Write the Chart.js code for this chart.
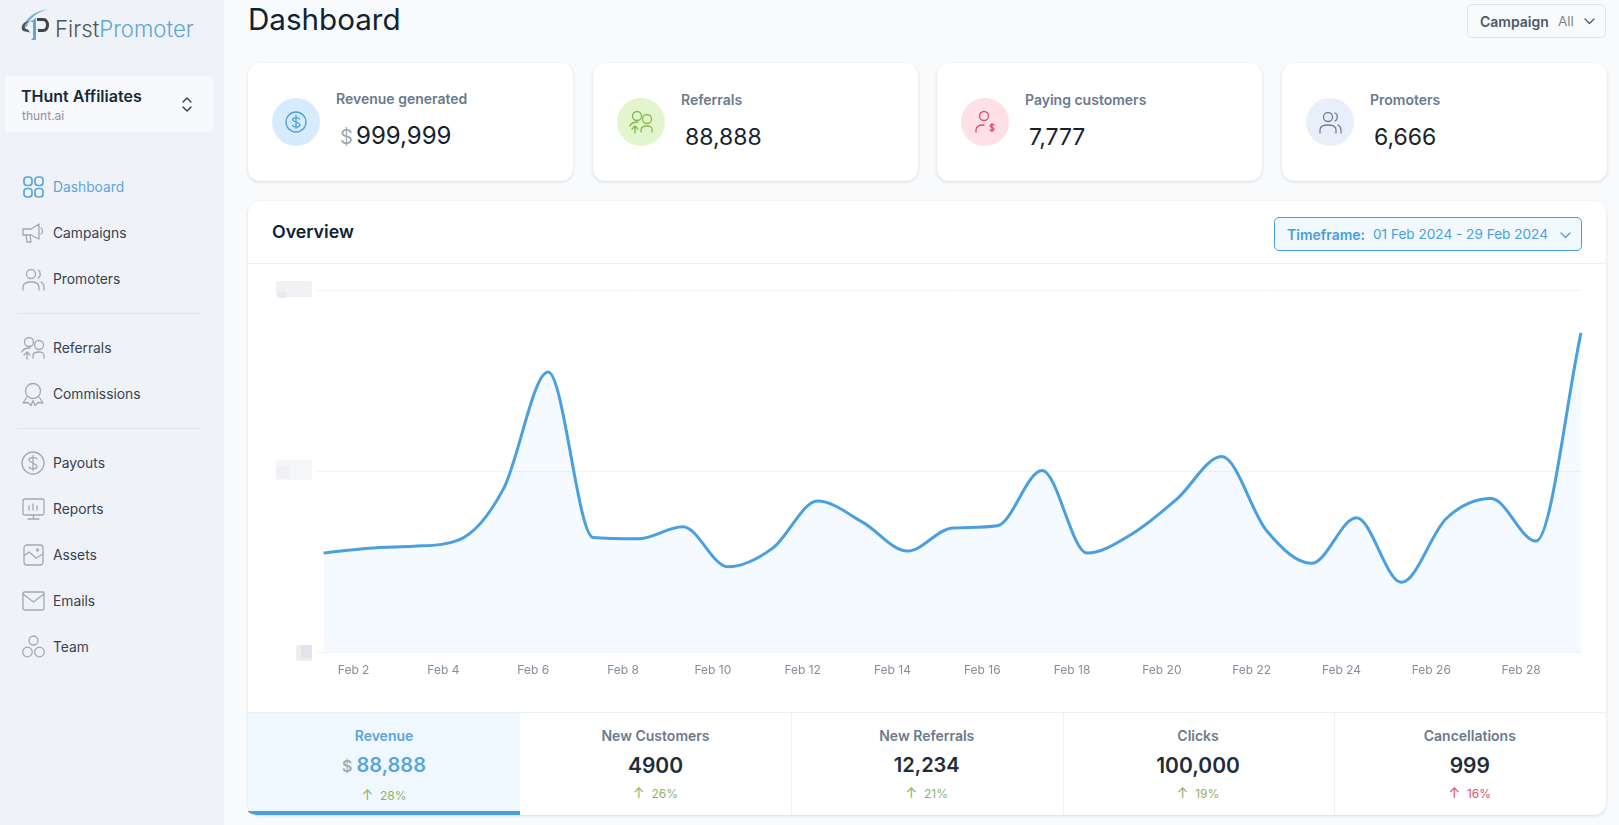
<!DOCTYPE html>
<html><head><meta charset="utf-8"><title>Dashboard</title>
<script src="https://cdn.jsdelivr.net/npm/chart.js@4"></script>
<style>
*{box-sizing:border-box}
html,body{margin:0;padding:0;width:1619px;height:825px;overflow:hidden;background:#f8fafc;font-family:Inter,"Noto Sans",sans-serif;color:#0f2233}
.a{position:absolute;white-space:nowrap;line-height:1}
.c{transform:translateX(-50%)}
.m{transform:translateY(-50%)}
.cm{transform:translate(-50%,-50%)}
.card{position:absolute;background:#fff;border-radius:12px;box-shadow:0 1px 3px rgba(40,60,90,.16)}
svg{position:absolute;overflow:visible;fill:none;stroke-linecap:round;stroke-linejoin:round}
</style></head><body>
<div class="a" style="left:0;top:0;width:224px;height:825px;background:#eff3f7"></div>
<div id="ui"></div>
<canvas id="chart" width="1358" height="448" style="position:absolute;left:248px;top:264px;width:1358px;height:448px"></canvas>
<div id="over"></div>
<script>
const days=['Feb 1','Feb 2','Feb 3','Feb 4','Feb 5','Feb 6','Feb 7','Feb 8','Feb 9','Feb 10','Feb 11','Feb 12','Feb 13','Feb 14','Feb 15','Feb 16','Feb 17','Feb 18','Feb 19','Feb 20','Feb 21','Feb 22','Feb 23','Feb 24','Feb 25','Feb 26','Feb 27','Feb 28','Feb 29'];
const revenue=[548,575,586,619,901,1548,634,627,693,472,575,835,719,559,686,699,1004,548,653,846,1081,671,491,743,386,739,849,614,1765];
const yTicks=[0,1000,2000];
const navTop=['Dashboard','Campaigns','Promoters'];
const navMid=['Referrals','Commissions'];
const navBot=['Payouts','Reports','Assets','Emails','Team'];
const kpiLabels=['Revenue generated','Referrals','Paying customers','Promoters'];
const kpiValues=['999,999','88,888','7,777','6,666'];
const tabLabels=['Revenue','New Customers','New Referrals','Clicks','Cancellations'];
const tabValues=['88,888','4900','12,234','100,000','999'];
const tabPct=['28%','26%','21%','19%','16%'];

const ui=document.getElementById('ui');
let h='';
function t(x,y,s,size,col,w,cls,extra){h+=`<div class="a ${cls||'m'}" style="left:${x}px;top:${y}px;font-size:${size}px;color:${col};font-weight:${w||400};${extra||''}">${s}</div>`}
function ic(x,y,body,col,sw){h+=`<svg style="left:${x}px;top:${y}px" width="24" height="24" viewBox="0 0 24 24" stroke="${col}" stroke-width="${sw||1.4}">${body}</svg>`}
const I={
 grid:'<rect x="3" y="2" width="8" height="8.5" rx="3"/><rect x="14" y="2" width="8" height="8.5" rx="3"/><rect x="3" y="13.5" width="8" height="8.5" rx="3"/><rect x="14" y="13.5" width="8" height="8.5" rx="3"/>',
 mega:'<path d="M2 8h8l8-5v15l-8-4H2z"/><path d="M5 14l1 7h4l-1-7"/><path d="M20 7c2 1 2 5 0 6"/>',
 users:'<circle cx="10" cy="7" r="4.5"/><path d="M2 23v-3c0-3 3-5 8-5s8 2 8 5v3"/><path d="M17 3c3 1 3 7 0 8M20 15c2 1 3 3 3 5v3"/>',
 refs:'<circle cx="8" cy="6" r="4.5"/><circle cx="18" cy="9" r="4.5"/><path d="M1 16c1-3 4-4 8-4M12 22v-2c0-3 2-4 6-4s5 1 5 4v2"/><path d="M6 23v-7M3 19l3-3 3 3"/>',
 award:'<circle cx="12" cy="9" r="7.5"/><path d="M6 15l-4 6 5-.5 3 3 2-5 2 5 3-3 5 .5-4-6"/>',
 dollar:'<circle cx="12" cy="12" r="11"/><path d="M16 8c-1-2-7-2.500-8 .5s8 4 8 7-7 3-8 .5M12 4.500v15"/>',
 report:'<rect x="2" y="2" width="21" height="16" rx="1.500"/><path d="M8 9v4M12 7v6M16 9v4M12.500 18v4M7 22h11"/>',
 asset:'<rect x="3" y="2" width="19" height="20" rx="3"/><path d="M3 13l5-4 7 6 7-4"/><circle cx="16.500" cy="7" r="1"/>',
 mail:'<rect x="2" y="3" width="21" height="18" rx="1.500"/><path d="M2 5l10.500 8L23 5"/>',
 team:'<circle cx="12.500" cy="5.500" r="4.500"/><circle cx="6.500" cy="17" r="4.800"/><circle cx="18.500" cy="17" r="4.800"/>'
};
// logo
h+=`<svg style="left:20px;top:8px" width="30" height="34" viewBox="0 0 30 34" stroke-width="0">
<path d="M3 19C6 10 14 3 28 1 16 5 9 11 7 19z" fill="#7fb3da"/>
<path d="M9 13C2 14 0 20 3 23l7 1.500-2-3C4 21 3 17 9 13z" fill="#4d5358"/>
<path d="M10 14l6-4v22h-5l2-2V14z" fill="#5da6d8"/>
<path d="M17 10h6c8 0 8 14 0 14h-5v-3h5c4 0 4-8 0-8h-6z" fill="#3f454b"/></svg>`;
t(55,29,'<span style="color:#4d5358">First</span><span style="color:#5da6d8">Promoter</span>',22.2,'#000',300);
h+='<div class="a" style="left:5px;top:76px;width:208px;height:56px;background:#f7f9fc;border-radius:4px"></div>';
t(21,96,'THunt Affiliates',16,'#16293a',600);
t(22,116,'thunt.ai',12,'#8a929c');
h+='<svg style="left:181px;top:97px" width="12" height="15" stroke="#2c3a47" stroke-width="1.300"><path d="M2 5l4-4 4 4M2 10l4 4 4-4"/></svg>';
const navItems=[[navTop[0],188,I.grid],[navTop[1],234,I.mega],[navTop[2],280,I.users],[navMid[0],349,I.refs],[navMid[1],395,I.award],[navBot[0],464,I.dollar],[navBot[1],510,I.report],[navBot[2],556,I.asset],[navBot[3],602,I.mail],[navBot[4],648,I.team]];
navItems.forEach((n,i)=>{const col=i==0?'#5aa5de':'#374151';t(53,n[1],n[0],13.8,col,400);ic(21,n[1]-13,n[2],i==0?'#5aa5de':'#a2a9b2',i==0?1.700:1.300)});
[313,428].forEach(y=>h+=`<div class="a" style="left:17px;top:${y}px;width:184px;height:1px;background:#dfe5f0"></div>`);
// header
t(248,20,'Dashboard',29.6,'#0f2233',400);
h+='<div class="a" style="left:1467px;top:4px;width:139px;height:34px;border:1px solid #dfe5ef;border-radius:5px;background:#f8fafc"></div>';
t(1480,21.500,'Campaign',14,'#4d5a68',600);
t(1558,21.500,'All',13.500,'#7d8793');
h+='<svg style="left:1584px;top:18px" width="10" height="7" stroke="#4d5a68" stroke-width="1.300"><path d="M1 1l4.500 4.500L10 1"/></svg>';
// KPI cards
const cardX=[248,593,937,1282];
const circleFill=['#d6ebfd','#e3f5cd','#ffe0e7','#e9effa'],circleStroke=['#4a9fd8','#86b84e','#dd4a72','#6f7f99'];
const kpiIcon=[
 '<circle cx="12" cy="12" r="10"/><path d="M15.500 9c-1-2-6.500-2-7 .5S16 12 16 15s-6.500 2.500-7.500.5M12 5.500v13"/>',
 I.refs,
 '<circle cx="11" cy="6" r="4.500"/><path d="M3 22v-2c0-3 3-5 8-5"/><path d="M21 15c-1-1-4-1-4 .8s4 1.400 4 3.200-3 2-4 .8M19 13.500v8"/>',
 I.users];
cardX.forEach((x,i)=>{
 h+=`<div class="card" style="left:${x}px;top:63px;width:325px;height:118px"></div>`;
 h+=`<div class="a" style="left:${x+24}px;top:98px;width:48px;height:48px;border-radius:50%;background:${circleFill[i]}"></div>`;
 ic(x+36,110,kpiIcon[i],circleStroke[i],1.300);
 t(x+88,i==0?99:100,kpiLabels[i],14,'#6b7a8d',600);
 if(i==0)t(x+92,137,'$',20,'#a3a9b0',400);
 t(i==0?x+108:x+92,i==0?136:137,kpiValues[i],i==0?24:23,'#16232f',400);
});
// overview
h+='<div class="card" style="left:248px;top:201px;width:1358px;height:614px"></div>';
t(272,232,'Overview',17.800,'#0f2233',600);
h+='<div class="a" style="left:1274px;top:217px;width:307.500px;height:34px;background:#f1f8fe;border:1px solid #4a9fd8;border-radius:5px"></div>';
t(1287,235,'Timeframe:',14,'#4a9fd8',600);
t(1373,235,'01 Feb 2024 - 29 Feb 2024',13.600,'#4a9fd8',400);
h+='<svg style="left:1560px;top:232px" width="10" height="7" stroke="#4a9fd8" stroke-width="1.300"><path d="M1 1l4.500 4.500L10 1"/></svg>';
h+='<div class="a" style="left:248px;top:263px;width:1358px;height:1px;background:#eef1f4"></div>';
ui.innerHTML=h;

const ctx=document.getElementById('chart');
new Chart(ctx,{type:'line',
 data:{labels:days,datasets:[{data:revenue,borderColor:'#4a9fdf',borderWidth:3,backgroundColor:'rgba(60,160,255,.055)',fill:'start',pointRadius:0,cubicInterpolationMode:'monotone'}]},
 options:{responsive:false,animation:false,devicePixelRatio:1,
  layout:{padding:{top:26.3,right:25,left:0,bottom:0}},
  plugins:{legend:{display:false},tooltip:{enabled:false}},
  scales:{
   x:{offset:false,grid:{display:false},border:{display:false},
      afterFit(s){s.height=59.8},
      ticks:{autoSkip:false,maxRotation:0,minRotation:0,labelOffset:-15,padding:3,color:'#858e9b',font:{family:'Inter',size:12},
        callback(v,i){return i%2==1?this.getLabelForValue(v):''}}},
   y:{min:yTicks[0],max:yTicks[2],afterBuildTicks(s){s.ticks=yTicks.map(v=>({value:v}))},
      afterFit(s){s.width=75.7},
      border:{display:false},
      grid:{color:'#f1f3f6',lineWidth:1,drawTicks:true,tickLength:8,tickColor:'#f1f3f6'},
      ticks:{display:false}}
  }}});

// bottom + smudged axis labels drawn above the canvas
h='';
[[276,281,36,16,'#eff1f4'],[278,292,9,6,'#e7eaee'],[276,460,36,20,'#f5f6f8'],[276,466,14,13,'#eff1f4'],[296,645,16,16,'#eceef2'],[301,645,11,13,'#e1e5eb']].forEach(b=>{
 h+=`<div class="a" style="left:${b[0]}px;top:${b[1]}px;width:${b[2]}px;height:${b[3]}px;background:${b[4]};border-radius:2px"></div>`});
const tabX=[248,520,791,1062.500,1333.600,1606];
const tabSize=[20,21,20,21,21];
h+='<div class="a" style="left:248px;top:712px;width:1358px;height:1px;background:#eef1f4"></div>';
h+='<div class="a" style="left:248px;top:713px;width:272px;height:102px;background:#eff8ff;border-bottom-left-radius:12px"></div>';
h+='<div class="a" style="left:248px;top:811px;width:272px;height:4px;background:#4a9fe0;border-bottom-left-radius:12px 4px"></div>';
tabX.slice(1,5).forEach((x,i)=>{if(i>0)h+=`<div class="a" style="left:${x}px;top:713px;width:1px;height:102px;background:#eef1f4"></div>`});
tabLabels.forEach((s,i)=>{
 const cx=(tabX[i]+tabX[i+1])/2, act=i==0;
 t(cx,736,s,14,act?'#5aa5de':'#6b7a8d',600,'cm');
 const val=(act?'<span style="color:#a3a9b0;font-size:16px">$ </span>':'')+tabValues[i];
 t(cx,765,val,tabSize[i],act?'#5aa5de':'#1f2d3a',600,'cm');
 const col=i==4?'#d9536f':'#8db36a';
 t(cx,act?795:793,`<span style="font-size:14px">↑</span>&nbsp; ${tabPct[i]}`,12,col,400,'cm');
});
document.getElementById('over').innerHTML=h;
</script>
</body></html>
